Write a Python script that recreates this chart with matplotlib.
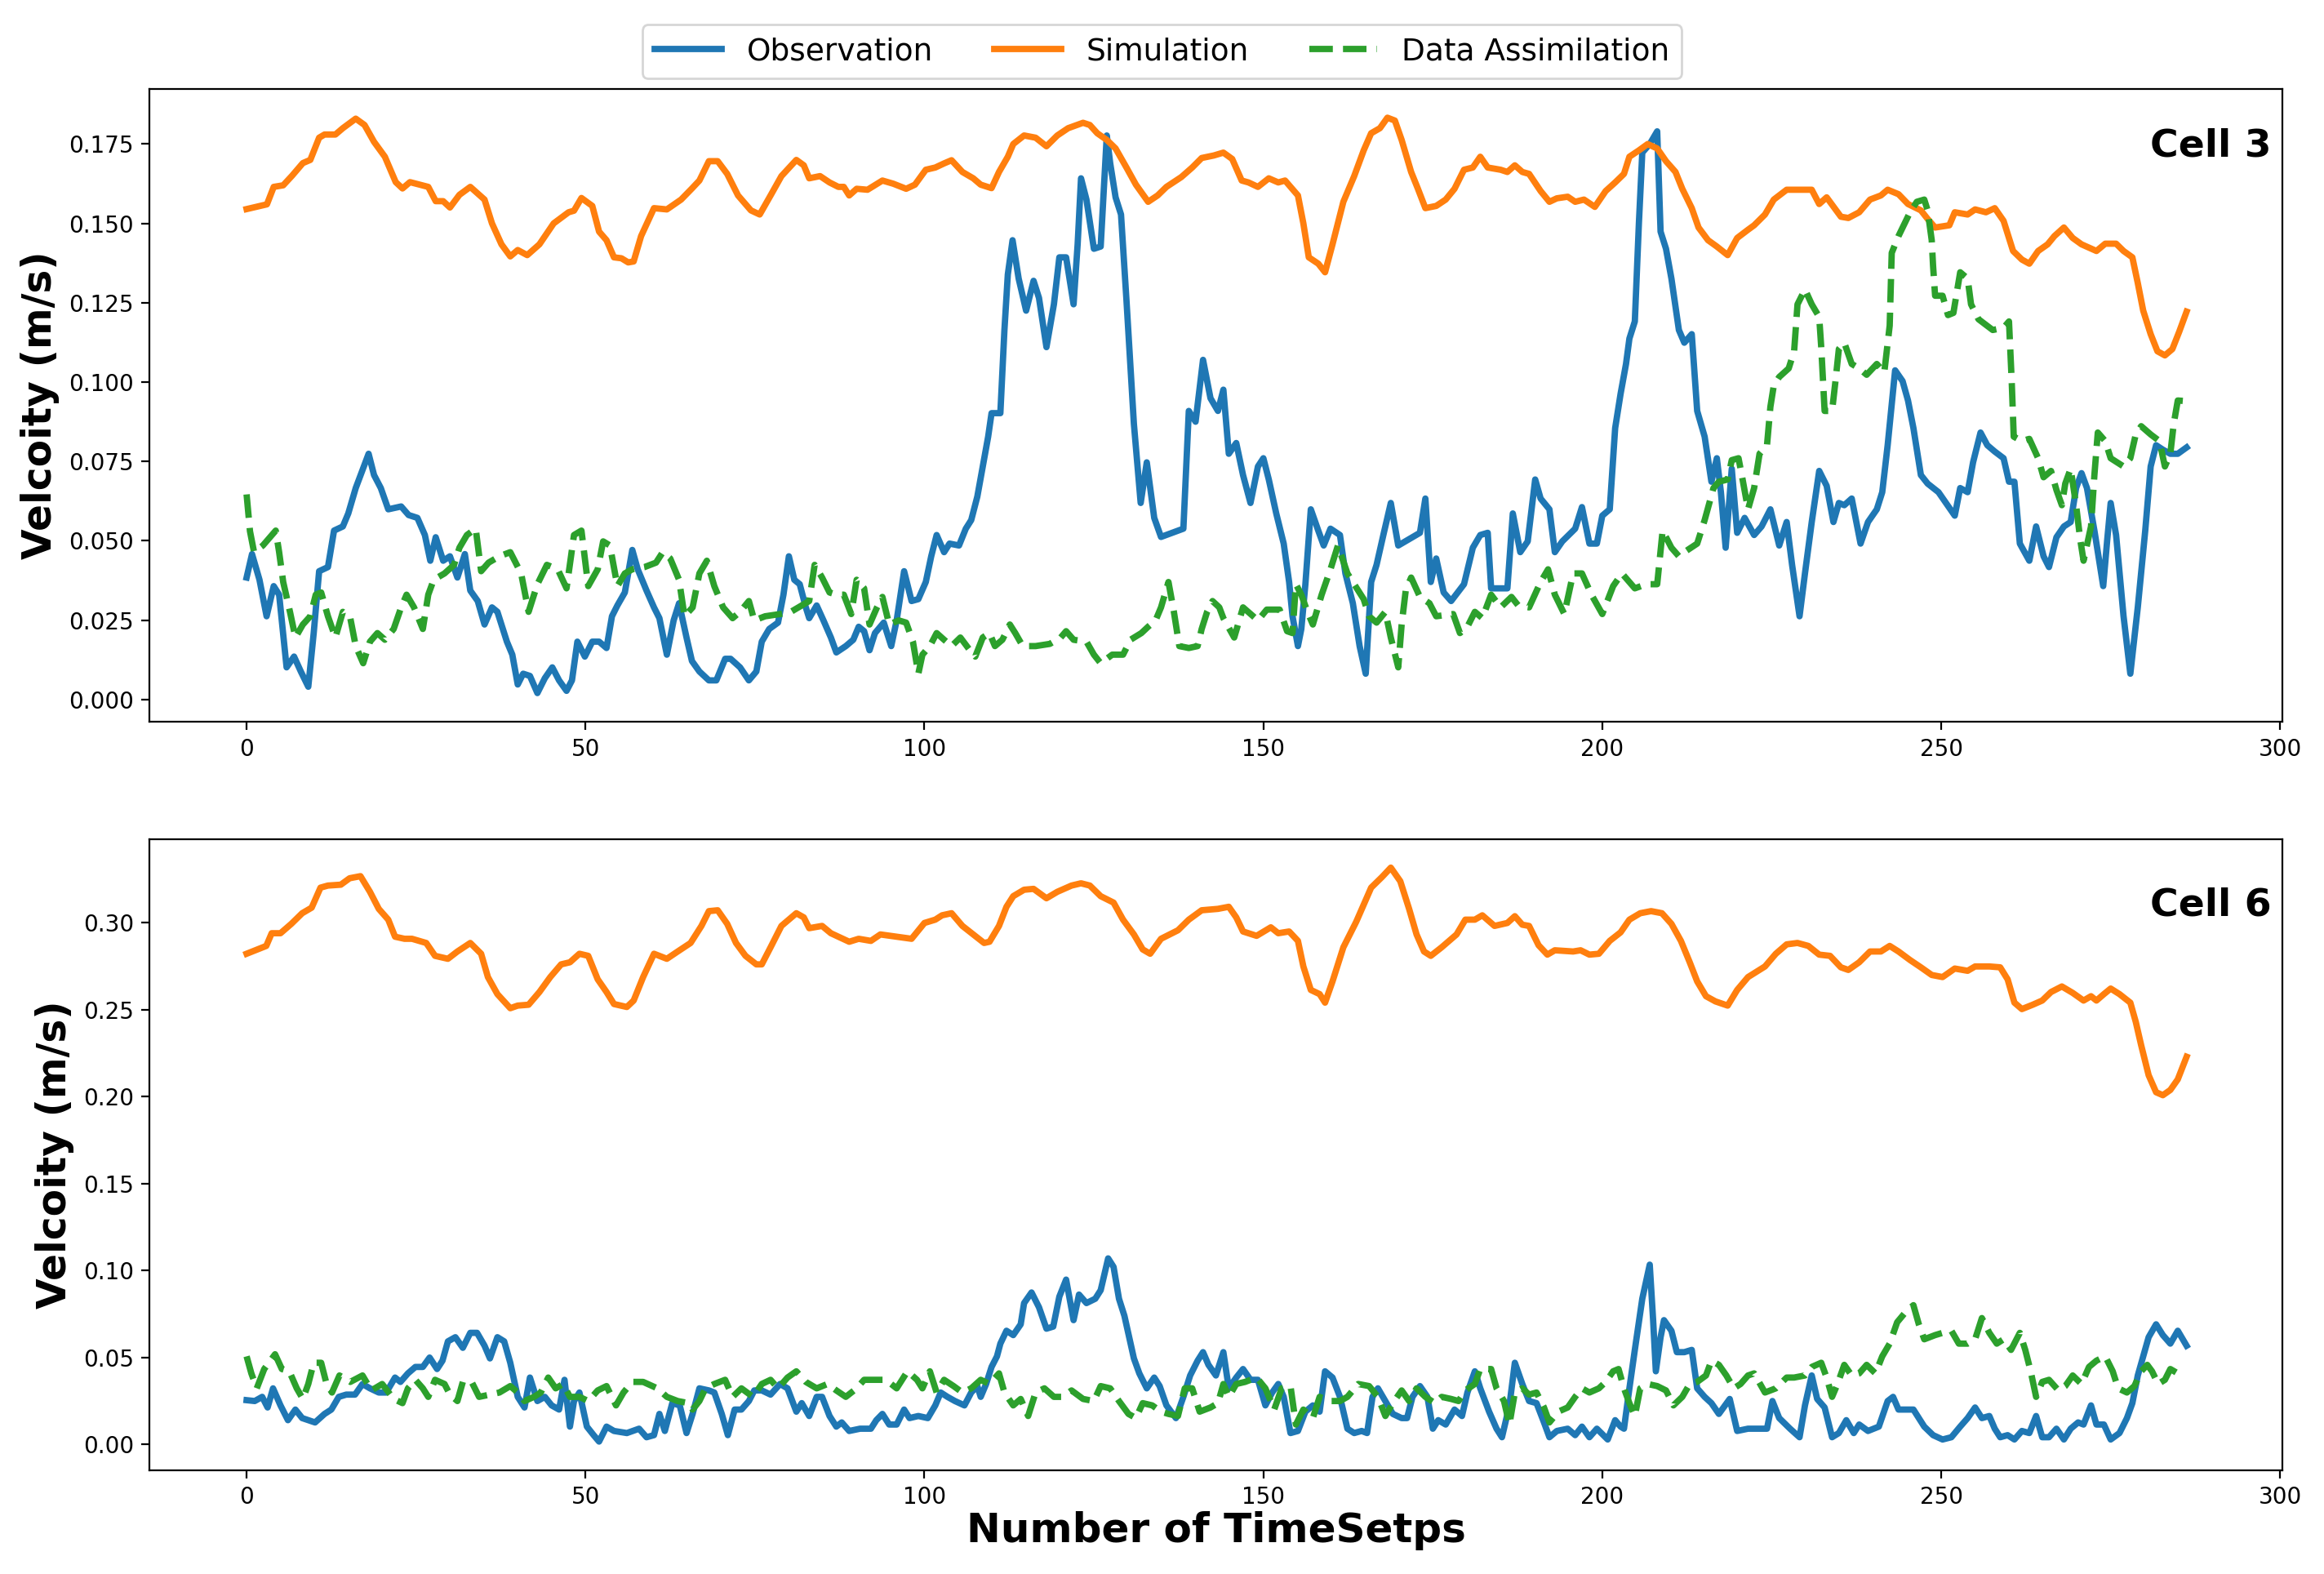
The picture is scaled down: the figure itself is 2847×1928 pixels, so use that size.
import matplotlib
matplotlib.use("Agg")
import matplotlib.pyplot as plt

# ---------------- Cell 3 ----------------
t_sim3 = [0,3,4,5.4,6.7,8.3,9.4,10.7,11.5,13.1,14.2,16.1,17.4,18.8,20.4,22,23,24.1,26.8,27.9,29,30,31.4,33,35.1,36.2,37.6,38.9,40,41.4,43.2,45.3,47.5,48.3,49.4,51,52,53.1,54.2,55.3,56.3,57.1,58.2,60.1,62,64.1,65.7,
          66.8,68.2,69.5,70.9,72.5,74.4,75.7,77.3,78.9,81.1,82.2,83,84.6,86,87.3,88.1,88.9,90,91.6,93.8,95.4,97.3,98.6,100.2,101.6,102.9,104,105.6,107.2,108.3,109.9,111,112.3,113.1,114.7,116.4,118,119.6,121.2,123.4,124.4,125.5,126.9,128.2,129.8,131.2,133,134.4,135.7,137.9,139.5,140.9,142.7,
          144.1,145.4,146.8,147.8,149.2,150.8,152.2,153.2,155.1,155.9,156.7,158.1,159.1,160.2,161.8,163.4,164.8,165.9,167.2,168.3,169.4,170.4,171.8,172.8,173.9,175.5,176.9,178.2,179.6,180.9,182,183.1,185,186,187.1,188.2,189.2,190.9,192.2,193.3,194.9,196,197.3,198.9,200.5,201.9,203.2,204,205.4,206.7,208.1,209.4,210.8,211.8,213.2,214.2,215.6,216.9,218.5,219.9,221.5,
          222.4,224,225.3,227.2,230.9,232,233.1,235.2,236.3,237.9,239.5,241.1,242.1,243.7,245.1,247,248,249.1,251.2,252,253.9,255,256.6,257.9,259.2,260.6,261.9,263,264.3,265.7,266.7,268.1,269.4,270.7,272.9,274.2,275.8,276.9,278.2,279,279.8,280.9,281.9,283,284.1,285.1,286.2]
v_sim3 = [.1545,.156,.1615,.162,.165,.169,.170,.177,.178,.178,.180,.183,.181,.1757,.171,.163,.161,.163,.1615,.157,.157,.155,.159,.1615,.1575,.150,.1434,.1396,.1416,.140,.1434,.150,.1535,.154,.158,.1555,.1474,.1447,.1393,.139,.1377,.138,.146,.1548,.1544,.1575,.161,
          .1635,.1696,.1696,.1656,.1588,.1541,.1528,.1588,.1649,.170,.1683,.1642,.1649,.1629,.1615,.1615,.1588,.1609,.1606,.1635,.1625,.1609,.1622,.1669,.1676,.1689,.1699,.1662,.1642,.1622,.1611,.1662,.171,.175,.1777,.177,.1743,.1777,.180,.1817,.181,.1784,.1763,.1736,.1676,.1622,.1568,.1588,.1615,.1646,.1676,.1706,.1714,
          .1723,.1703,.1635,.1629,.1615,.1642,.1629,.1635,.1588,.150,.1393,.1373,.1346,.1434,.1568,.1649,.173,.1784,.180,.1833,.1824,.1763,.1662,.1609,.1548,.1555,.1575,.1609,.1669,.1676,.171,.1676,.1669,.1662,.1683,.1662,.1656,.1602,.1568,.1579,.1584,.1568,.1575,.1552,.1602,.1629,.1656,.171,.173,.175,.1736,.1696,.1662,.1609,.1548,.1487,.1447,.1427,.140,.1454,.148,
          .1494,.1528,.1575,.1606,.1606,.1561,.1582,.1521,.1517,.1535,.1575,.1588,.1606,.1592,.1561,.1541,.1514,.1487,.1494,.1535,.1528,.1544,.1535,.1548,.1508,.1413,.1386,.1373,.1413,.1434,.146,.1487,.1454,.1434,.1413,.1436,.1436,.1413,.1393,.1312,.1225,.1151,.1097,.1084,.1104,.1158,.1222]

t_obs3 = [0,0.8,1.9,2.95,4,4.8,5.9,7,8,9.1,9.9,10.7,12,12.9,14.2,15,16.1,18,18.8,19.8,20.9,22.8,23.9,25.2,26.3,27.1,27.9,29,30,31.1,32.2,33,34.1,35.1,36.2,37,38.4,39.2,40,40.8,41.8,42.9,44,45.1,46.1,47.2,48,48.8,49.9,51,52,53.1,53.9,54.7,55.8,56.9,57.7,59,60.1,60.9,62,63,63.8,64.9,65.7,
          66.8,68.2,69.3,70.6,71.4,72.8,74.1,75.2,76,77.1,78.4,79.2,80,80.8,81.6,82.5,83,84.1,85.1,86.2,87,88.4,89.5,90.3,91.1,91.9,92.7,94,95.1,95.9,97,98.1,99.1,100.2,101,101.8,102.9,103.7,105.1,106.1,106.9,107.8,108.6,109.4,109.9,111.2,111.8,112.3,113,113.9,115,116.1,116.9,118,119.1,119.9,120.9,122,122.6,123.1,123.9,125,126,126.9,127.4,128.2,129,129.8,130.9,131.9,132.8,133.9,134.9,138.2,139,140,141.1,142.2,143.3,
          144.1,144.9,146,147,148.1,149.2,150,150.8,151.9,153,153.8,154.3,155.1,155.6,156.2,157,158.1,158.9,159.9,161.3,162.1,163.2,164.2,165.1,165.9,166.7,167.7,168.8,169.9,171.5,173.1,173.9,174.7,175.5,176.6,177.7,179.6,180.9,182,183.1,183.6,186,186.8,187.9,189,190.1,190.9,192.2,193,194.1,196,197,198.1,199.2,200,201.1,201.9,202.7,203.5,204,204.8,205.4,205.9,207,208.1,208.6,209.4,210.2,211.3,212.1,213.2,214,215.1,216.1,216.9,217.5,218.2,219.1,219.9,221,
          222.4,223.5,224.8,226.1,227.2,228,229.1,229.9,230.9,232,233.1,234.1,234.9,235.7,236.8,238.1,239.2,240.5,241.3,242.1,243.2,244.3,245.1,245.9,247,248,249.6,250.7,252,252.8,253.9,254.7,255.8,256.8,257.9,259.2,260,260.8,261.6,263,264,265.1,265.9,267,268.1,269.1,269.9,270.7,271.5,272.6,273.9,274.5,275,275.8,276.9,277.9,279,280.1,280.9,281.7,282.7,283.8,284.9,286.2]
v_obs3 = [.0384,.0458,.0377,.0262,.0357,.033,.0101,.0135,.0088,.004,.0209,.0404,.0417,.0532,.0545,.0586,.0666,.0774,.0707,.0666,.0599,.0608,.0581,.0572,.0518,.0437,.0511,.0437,.0451,.0384,.0458,.0343,.031,.0236,.029,.0276,.0182,.0141,.0047,.0081,.0074,.002,.0067,.0101,.006,.0027,.006,.0182,.0135,.0182,.0182,.0162,.0262,.0296,.0337,.0471,.041,.0343,.029,.0256,.0141,.0249,.0303,.0195,.0121,
          .0088,.006,.006,.0128,.0128,.0101,.006,.0088,.0182,.0222,.0242,.033,.0451,.0377,.0363,.029,.0256,.0296,.0249,.0195,.0148,.0168,.0188,.0229,.0215,.0155,.0209,.0242,.0168,.0249,.0404,.031,.0316,.037,.0451,.0518,.0464,.0491,.0485,.0538,.0565,.0639,.0734,.0828,.0902,.0902,.1164,.1339,.1447,.1326,.1225,.1319,.1265,.111,.1245,.1393,.1393,.1245,.1434,.1642,.1575,.142,.1427,.1777,.169,.1582,.1528,.1259,.0868,.0619,.0747,.0572,.0512,.0538,.0909,.0875,.107,.0949,.0909,
          .0976,.0774,.0808,.0707,.0619,.0734,.076,.0693,.0586,.0491,.037,.0262,.0168,.0222,.0363,.0599,.0532,.0485,.0538,.0518,.0397,.0303,.0168,.0081,.037,.0424,.0518,.0619,.0485,.0505,.0525,.0633,.037,.0444,.0337,.031,.0363,.0478,.0518,.0525,.035,.035,.0586,.0464,.0498,.0693,.0633,.0599,.0464,.0498,.0538,.0606,.0491,.0491,.0579,.0599,.0855,.0963,.1057,.1137,.1191,.150,.1723,.175,.179,.1474,.142,.1326,.1164,.1124,.1151,.0909,.0828,.0686,.076,.0653,.0478,.0727,.0525,.0572,
          .0518,.0545,.0599,.0485,.0559,.0424,.0262,.0397,.0559,.072,.0673,.0559,.0619,.0612,.0633,.0491,.0559,.0599,.0653,.0801,.1037,.1003,.0942,.0855,.0707,.068,.0653,.0619,.0579,.0666,.0653,.0747,.0841,.0801,.0781,.076,.0686,.0686,.0491,.0437,.0545,.0451,.0417,.0511,.0545,.0559,.0666,.0713,.0666,.0532,.0357,.0505,.0619,.0518,.0262,.0081,.029,.0532,.0734,.0801,.0787,.0774,.0774,.0794]

t_da3 = [0,0.5,1.1,2.4,4.3,4.8,5.4,6.4,7.2,8.3,9.4,10.2,11,12,13.1,14.2,15.3,16.1,17.2,18.2,19.3,20.4,21.7,22.8,23.6,24.7,26,26.8,27.6,29.2,30.6,31.4,32.5,33.8,34.6,35.7,37.3,38.9,40.5,41.6,42.9,44.3,45.9,47.2,48.3,49.4,50.4,51.8,52.6,53.6,54.7,55.8,56.9,58.7,60.4,61.4,62.5,63.8,64.6,
         65.8,66.8,67.9,69,70.3,71.7,72.8,74.1,74.9,76.5,78.7,80.3,81.9,83,83.8,84.9,86,87,88.1,89.2,90,91.1,91.9,93,93.8,94.8,96.2,97.3,98.3,99.1,99.7,100.8,101.8,102.9,104,105.3,106.7,107.5,108.6,109.6,110.4,111.5,112.6,113.4,114.5,116.4,118.5,120.1,120.9,122,123.9,125,126,127.7,129.3,130.4,132,133,134.1,134.9,136,136.8,137.6,139,140.3,140.9,141.7,142.5,143.5,
         144.1,145.7,147,149.2,150.5,152.4,153.5,154.3,154.8,155.6,156.5,157.3,158.6,159.9,161,162.4,163.4,164.8,165.6,166.7,168,168.8,169.9,170.4,171,171.8,173.1,174.5,175.5,178,179,180.1,181.2,182.3,183.6,185,186.6,187.6,189.2,190.9,192,193,194.4,195.7,197,198.4,200,201.6,202.9,204.8,206.5,208.1,208.9,210.2,211.3,212.1,214,215.1,216.4,217.2,218.5,219.1,220.1,220.7,221.5,
         222.4,223.2,224.3,224.8,225.3,226.1,227.5,228.3,228.8,229.9,230.9,232,232.3,232.8,233.9,234.4,234.9,235.7,236.8,237.9,239,240.5,241.6,242.4,242.7,243.7,244.6,245.4,246.4,247.5,248,248.6,248.8,249.1,250.2,251,251.8,252.8,253.9,254.4,255.5,257.6,259.2,260,260.4,260.7,261.9,263,264.3,265.1,266.2,267,267.8,268.3,269.1,269.9,270.5,271,272.1,272.6,273.1,274.2,275,276.9,277.9,278.7,279.5,280.9,282.2,283,283.8,284.3,284.9,286]
v_da3 = [.0646,.053,.0464,.0485,.0532,.0464,.037,.0276,.0195,.0236,.0262,.033,.0337,.0262,.0195,.0276,.0256,.0168,.0114,.0182,.0209,.0188,.0222,.029,.033,.029,.0222,.033,.0377,.0397,.0424,.0478,.0518,.0538,.0404,.0431,.0451,.0464,.0397,.0276,.0363,.0424,.041,.035,.0518,.0532,.0357,.041,.0498,.0485,.0357,.0397,.041,.0417,.0431,.0464,.0444,.0377,.0262,
         .029,.0397,.0437,.0357,.029,.0256,.0276,.031,.0249,.0262,.0269,.0276,.0296,.031,.0424,.0384,.0337,.033,.033,.0269,.0377,.035,.0236,.029,.0323,.0236,.0249,.0242,.0182,.0081,.0141,.0168,.0209,.0188,.0168,.0195,.0155,.0135,.0195,.0209,.0168,.0188,.0236,.0209,.0168,.0168,.0175,.0195,.0215,.0188,.0182,.0141,.0114,.0141,.0141,.0188,.0209,.0229,.0249,.029,.037,.0276,.0168,.0162,.0168,.0222,.0276,.031,.029,
         .0256,.0195,.029,.0249,.0283,.0283,.0215,.0209,.0363,.033,.0276,.0236,.033,.041,.0485,.0397,.0363,.0316,.0262,.0242,.0276,.0195,.0101,.0236,.0343,.0384,.0323,.0303,.0262,.0269,.0209,.0229,.0276,.0256,.033,.029,.0323,.0296,.029,.037,.041,.033,.0269,.0397,.0397,.033,.0269,.0357,.0397,.035,.0363,.0363,.0532,.0478,.0451,.0464,.0491,.0565,.0666,.0686,.0693,.0754,.076,.0693,.0599,
         .0666,.0774,.0801,.0922,.0989,.1016,.1043,.1097,.1245,.1292,.1245,.1205,.111,.0909,.0909,.1003,.1104,.1124,.1057,.1043,.1023,.1057,.103,.1178,.1407,.146,.150,.1535,.1568,.1575,.1541,.1447,.1366,.1272,.1272,.1211,.1218,.1346,.1326,.1245,.1198,.1164,.1171,.1191,.1003,.0828,.0814,.0821,.076,.070,.072,.066,.0612,.068,.0727,.0612,.0505,.0437,.0545,.0707,.0841,.0814,.076,.0734,.076,.0835,.0861,.0835,.0814,.0734,.0774,.0868,.0942,.094]

# ---------------- Cell 6 ----------------
t_sim6 = [0,1.3,2.9,3.7,5,6.6,8.2,9.6,10.9,12,13.9,15.2,16.8,18.2,19.5,20.9,21.9,23.3,24.4,26.5,27.8,29.7,31.1,33,34.6,35.6,37,38.9,40,41.6,43.2,44.8,46.4,47.7,49.1,50.4,51.8,53.1,54.2,56.1,57.1,58.5,60.1,62,63.6,65.5,
          67.1,68.2,69.5,70.9,72.2,73.6,75.2,76,77.3,78.9,81.1,82.2,83,84.9,86.2,88.9,90.3,92.1,93.5,95.9,98.1,100,101.6,102.6,104,105.6,107.2,108.8,109.6,111,112.1,113.1,114.7,116.1,118,119.6,121.7,123.1,124.4,126,127.9,129.3,130.9,132.2,133.3,134.9,137.4,139,140.9,143.3,
          144.9,146,147,149,151.1,152.2,153.8,155.1,155.9,157,158.3,159.1,160.2,161.8,163.7,165.9,167.5,168.8,170.2,171.5,172.6,173.7,174.7,176.3,178.5,179.8,181.2,182.3,184.1,186,187.1,188.2,189.2,190.6,191.9,193,195.7,196.8,198.1,199.5,201.1,202.7,204,205.6,207.2,208.8,210.2,211.6,212.9,214,215.3,216.7,218.5,219.9,221.5,
          224,225.6,227.2,228.8,230.4,232,233.6,235.2,236.3,237.9,239.5,241.1,242.4,243.7,245.4,247,248.6,250.2,252,253.9,255,257.1,258.7,259.8,260.8,261.9,263.5,264.9,266.2,267.8,269.4,271,272.1,272.9,274,275,276.3,277.9,278.7,279.5,280.6,281.7,282.7,283.8,284.9,286.2]
v_sim6 = [.2821,.2841,.2866,.2939,.2939,.2993,.3054,.3086,.3201,.3213,.3218,.3255,.3267,.3177,.3079,.3017,.2919,.2907,.2907,.2883,.2809,.2792,.2834,.2883,.2821,.2687,.2589,.2508,.2523,.2528,.2601,.2687,.276,.2772,.2821,.2809,.2674,.2601,.2532,.2515,.2552,.2687,.2821,.2792,.2834,.2883,
          .2981,.3066,.3071,.2993,.2883,.2809,.276,.276,.2858,.2981,.3054,.303,.2968,.2981,.2939,.289,.2907,.2895,.2932,.2919,.2907,.2998,.3017,.3042,.3054,.2981,.2932,.2883,.289,.2981,.3091,.3152,.3189,.3194,.314,.3177,.3213,.3226,.3213,.3152,.3115,.3017,.2932,.2846,.2821,.2907,.2956,.3017,.3071,.3079,
          .3091,.303,.2949,.2924,.2973,.2939,.2949,.2895,.2748,.2613,.2589,.254,.2662,.2858,.3005,.3201,.3262,.3316,.3238,.3079,.2932,.2834,.2809,.2858,.2932,.3017,.3017,.3042,.2981,.2998,.3037,.2988,.2981,.287,.2816,.2841,.2834,.2841,.2816,.2821,.2895,.2944,.3017,.3054,.3066,.3054,.2993,.2895,.2772,.2662,.2577,.2547,.2523,.2613,.2687,
          .2748,.2821,.2875,.2883,.2866,.2816,.2809,.2743,.2728,.2772,.2834,.2834,.2866,.2834,.2785,.2743,.2699,.2687,.2736,.2723,.2748,.2748,.2743,.2674,.254,.2503,.2528,.2552,.2601,.2633,.2596,.2552,.2577,.2552,.2589,.2621,.2589,.254,.243,.2295,.2123,.2025,.2008,.2038,.2099,.2229]

t_obs6 = [0,1.2,2.3,3.1,3.9,5,6.1,7.2,8.2,10.1,11.5,12.5,13.6,14.7,16,17.1,18.2,19.5,20.6,21.9,22.7,23.8,24.9,26,27,28.1,28.9,29.7,30.8,31.9,33,34,35.1,35.9,37,38,38.9,40,41,41.8,42.9,44,45,46.1,46.9,47.7,48.3,49.1,50.2,51.2,52,53.1,54.2,56.1,57.9,59,60.1,60.9,61.7,62.8,63.9,64.9,
          65.8,66.8,68.2,69,70.1,71,72,73,74.1,74.9,76,77.3,78.7,79.8,81.1,81.9,83,84.1,84.9,86,87,87.8,88.9,90.5,92.1,92.9,93.8,94.8,95.9,97,97.8,99.1,100.5,101.6,102.4,103.4,104.5,105.9,106.9,107.8,108.3,109.1,109.9,110.7,111.2,112.1,113.1,114.2,114.7,115.8,116.9,118,119,119.9,120.9,122,122.8,123.9,125.2,126,127.1,127.9,128.7,129.5,130.9,131.7,132.8,133.9,134.7,135.7,137.1,138.2,139.2,140.3,141.1,141.9,143,
          144.1,144.9,146,147,148.1,149.2,150.3,151.3,152.2,153,154,155.1,156.2,157.3,158.3,159.1,160.2,161.3,162.4,163.4,164.5,165.3,166.1,166.9,168,169.1,170.4,171.2,172,173.1,174.2,175,175.8,176.9,178.2,179.3,180.1,181.2,182,183.3,184.4,185.2,186.3,187.1,188.2,189.2,190.3,191.4,192.2,193.3,194.9,196,197,198.1,199.2,200.8,201.9,202.7,203.2,204,204.8,205.9,207,207.5,207.9,208.6,209.1,210.2,211,212.1,213.2,214,215.1,216.1,217.2,218.8,219.9,221.5,
          222.4,224.3,225.1,226.1,227.7,229.1,229.9,230.9,231.7,232.8,233.9,234.9,236,237.1,237.9,239.2,240.8,242.1,242.9,243.7,245.9,247.5,248.8,250.2,251.5,252.8,253.9,255,256,257.1,257.9,258.7,259.8,260.8,261.9,263,264,264.9,265.9,267,268.1,269.1,270.2,271,272.1,272.9,274,275,276.3,277.4,278.2,279,279.8,280.6,281.7,282.7,283.8,284.9,286.2]
v_obs6 = [.0255,.025,.0274,.0213,.0323,.0225,.014,.0201,.0152,.0127,.0176,.0201,.0274,.0287,.0287,.0348,.0323,.0299,.0299,.0385,.036,.0409,.0446,.0446,.050,.0434,.0482,.0593,.0617,.0556,.0642,.0642,.0568,.0495,.0617,.0593,.047,.0274,.0213,.0385,.025,.0274,.0225,.0201,.0372,.0103,.025,.0299,.0103,.0054,.0017,.0103,.0078,.0066,.0091,.0042,.0054,.0176,.0078,.0238,.0225,.0066,
          .0176,.0323,.0311,.0299,.0176,.0054,.0201,.0201,.025,.0311,.0311,.0287,.0348,.0323,.0189,.0238,.0164,.0274,.0274,.0164,.0103,.0127,.0078,.0091,.0091,.014,.0176,.0115,.0115,.0201,.0152,.0164,.0152,.0225,.0299,.0274,.025,.0225,.0299,.0336,.0274,.0348,.0446,.0507,.058,.0654,.0629,.0691,.0813,.0874,.0789,.0666,.0678,.085,.0948,.0715,.0862,.0813,.0838,.0887,.107,.1021,.0838,.074,.0495,.0409,.0323,.0385,.0336,.0225,.0152,.0274,.0397,.0482,.0531,.0458,.0397,
          .0531,.0323,.0385,.0434,.0372,.0372,.0225,.0299,.0348,.0274,.0066,.0078,.0189,.0225,.0189,.0421,.0385,.0274,.0091,.0066,.0078,.0066,.0274,.0323,.025,.0176,.0152,.0152,.0274,.0336,.0274,.0091,.014,.0115,.0201,.0164,.0299,.0421,.0323,.0189,.0091,.0042,.0225,.047,.0348,.025,.0238,.0127,.0042,.0078,.0091,.0054,.0103,.0042,.0091,.0029,.014,.0103,.0091,.0323,.0544,.0838,.1034,.0715,.0421,.0617,.0715,.0654,.0531,.0531,.0544,.0323,.0274,.0238,.0176,.0262,.0078,.0091,
          .0091,.0091,.025,.0152,.0091,.0042,.0225,.0397,.0262,.0213,.0042,.0066,.014,.0066,.0115,.0078,.0103,.025,.0274,.0201,.0201,.0103,.0054,.0029,.0042,.0103,.0152,.0213,.0152,.0164,.0091,.0042,.0054,.0029,.0078,.0066,.0164,.0042,.0042,.0091,.0029,.0091,.0127,.0115,.0225,.0115,.0115,.0029,.0066,.0152,.0238,.0397,.0507,.0617,.0691,.0629,.058,.0654,.0568]

t_da6 = [0,0.7,1.5,2.6,4.2,5.2,6.3,7.4,8.3,9.1,9.9,11,11.8,12.6,13.7,15.3,17.1,18.4,20,21.7,23,23.8,24.9,26,26.8,27.8,29.2,30,31.1,31.9,33.2,34.3,35.9,37.3,38.9,40,41,42.4,43.4,44.5,45.6,46.7,47.7,49.1,50.4,51.8,53.1,54.5,55.6,56.9,58.5,60.6,62,63.6,65.2,
         65.8,66.8,67.7,69,70.6,71.7,73,74.7,76,77.3,78.4,79.8,81.1,82.5,84.1,85.7,87,88.4,90,91.1,92.7,94.3,95.9,97.5,98.9,99.7,100.8,101.8,102.9,104.3,105.6,106.9,108.3,109.6,111,111.8,113.1,114.2,115.3,116.4,117.7,119.1,120.4,121.7,123.4,125,126,127.4,128.7,130.1,131.2,132.2,133.6,134.9,136,137.4,138.4,139.5,140.6,142.2,143.3,
         144.1,144.9,146,147.3,149,150.3,151.6,152.7,154,154.8,155.9,157.3,158.3,159.7,161.3,162.4,164,165.6,166.9,168,169.1,170.4,171.5,172.6,173.9,175.3,176.3,177.7,178.8,179.8,181.2,182,183.6,184.4,185.5,186.3,187.1,188.2,189.2,190.3,191.4,192.2,193.5,194.9,196,197,198.1,199.5,200.5,201.6,202.4,203.2,204,204.8,205.6,206.7,208.1,209.4,210.5,211.8,212.9,214,215.3,216.1,217.2,218.3,219.4,220.4,221.5,
         222.4,224,225.6,227.2,228.3,229.9,230.9,232.3,233.1,233.9,234.7,235.7,236.8,237.9,239,240.3,241.3,242.4,243.5,244.8,245.9,246.7,247.5,249.1,250.2,251.5,252.6,253.9,255,256,257.1,258.2,259.2,260.3,261.6,262.4,263.2,264,264.9,265.9,267.3,268.3,269.4,270.7,271.8,272.9,274.2,275.3,276.1,277.4,278.5,279.5,280.4,281.1,282,283,283.8,284.9,286]
v_da6 = [.0507,.0409,.0323,.0434,.0519,.0434,.0421,.0323,.0262,.0348,.047,.047,.0348,.0299,.0397,.036,.0397,.0311,.0348,.0262,.0238,.0323,.0372,.0323,.0274,.0372,.0348,.0287,.025,.036,.036,.0274,.0287,.0299,.0336,.0299,.025,.0274,.0299,.0385,.0323,.0348,.0274,.0274,.025,.0311,.0336,.0225,.0299,.036,.036,.0323,.0274,.025,.0238,
         .0201,.025,.0323,.0348,.0372,.0274,.0323,.0274,.0348,.0372,.0323,.0385,.0421,.036,.0323,.0348,.0311,.0274,.0323,.0372,.0372,.0372,.0323,.0421,.0372,.0323,.0421,.0299,.0372,.0336,.0299,.0323,.0372,.0348,.0409,.0299,.0225,.0262,.0164,.0299,.0323,.0274,.0274,.0311,.0262,.025,.0336,.0323,.025,.0176,.0152,.0238,.0225,.0189,.0176,.0164,.0323,.0323,.0189,.0213,.0238,
         .0348,.0274,.0348,.036,.0385,.0323,.0201,.0323,.0336,.0115,.0201,.0152,.0274,.025,.025,.0274,.0348,.0336,.0274,.0164,.0238,.0311,.025,.0323,.0274,.0238,.0274,.0262,.025,.0311,.0348,.0434,.0434,.0323,.025,.0115,.0299,.0323,.0287,.0299,.0213,.0127,.0189,.0213,.0274,.0323,.0299,.0323,.036,.0421,.0434,.0323,.0238,.0164,.0323,.0348,.0336,.0311,.0225,.0274,.0348,.036,.0397,.0482,.0458,.0397,.0323,.0348,.0397,
         .0409,.0299,.0323,.0385,.0385,.0397,.0446,.047,.0385,.0274,.0348,.0458,.0397,.0409,.0458,.0409,.0507,.058,.0703,.0764,.0801,.0691,.0605,.0629,.0642,.0654,.058,.058,.0605,.0727,.0642,.058,.0605,.0544,.0642,.0544,.0421,.0274,.036,.0372,.0311,.0336,.0397,.0348,.0446,.0482,.0507,.0421,.0323,.0299,.0336,.0421,.0458,.0421,.0348,.0372,.0434,.0409,.0421]

cells = ["Cell 3", "Cell 6"]
series_labels = ["Observation", "Simulation", "Data Assimilation"]
x_ticks = [0, 50, 100, 150, 200, 250, 300]

C_OBS, C_SIM, C_DA = "#1f77b4", "#ff7f0e", "#2ca02c"

fig = plt.figure(figsize=(14.235, 9.64), dpi=200)
ax1 = fig.add_axes([0.0644, 0.5414, 0.9176, 0.4021])
ax2 = fig.add_axes([0.0644, 0.0659, 0.9176, 0.4011])

data = [
    (ax1, (t_obs3, v_obs3), (t_sim3, v_sim3), (t_da3, v_da3), cells[0], 0.91),
    (ax2, (t_obs6, v_obs6), (t_sim6, v_sim6), (t_da6, v_da6), cells[1], 0.895),
]
lw = 2.8
for ax, obs, sim, da, name, ty in data:
    l1, = ax.plot(obs[0], obs[1], color=C_OBS, lw=lw, label=series_labels[0])
    l2, = ax.plot(sim[0], sim[1], color=C_SIM, lw=lw, label=series_labels[1])
    l3, = ax.plot(da[0], da[1], color=C_DA, lw=lw, ls="--", label=series_labels[2])
    ax.set_xlim(-14.3, 300.3)
    ax.set_xticks(x_ticks)
    ax.set_ylabel("Velcoity (m/s)", fontsize=17.5, fontweight="bold")
    ax.text(0.995, ty, name, transform=ax.transAxes, ha="right", va="center",
            fontsize=17, fontweight="bold")
    ax.tick_params(labelsize=10)

ax2.set_xlabel("Number of TimeSetps", fontsize=18, fontweight="bold", labelpad=1)

fig.legend(handles=[l1, l2, l3], loc="upper center", ncol=3,
           bbox_to_anchor=(0.5, 0.994), fontsize=13.5, handlelength=2.2,
           columnspacing=2.0)

fig.savefig("out.png", dpi=200)
